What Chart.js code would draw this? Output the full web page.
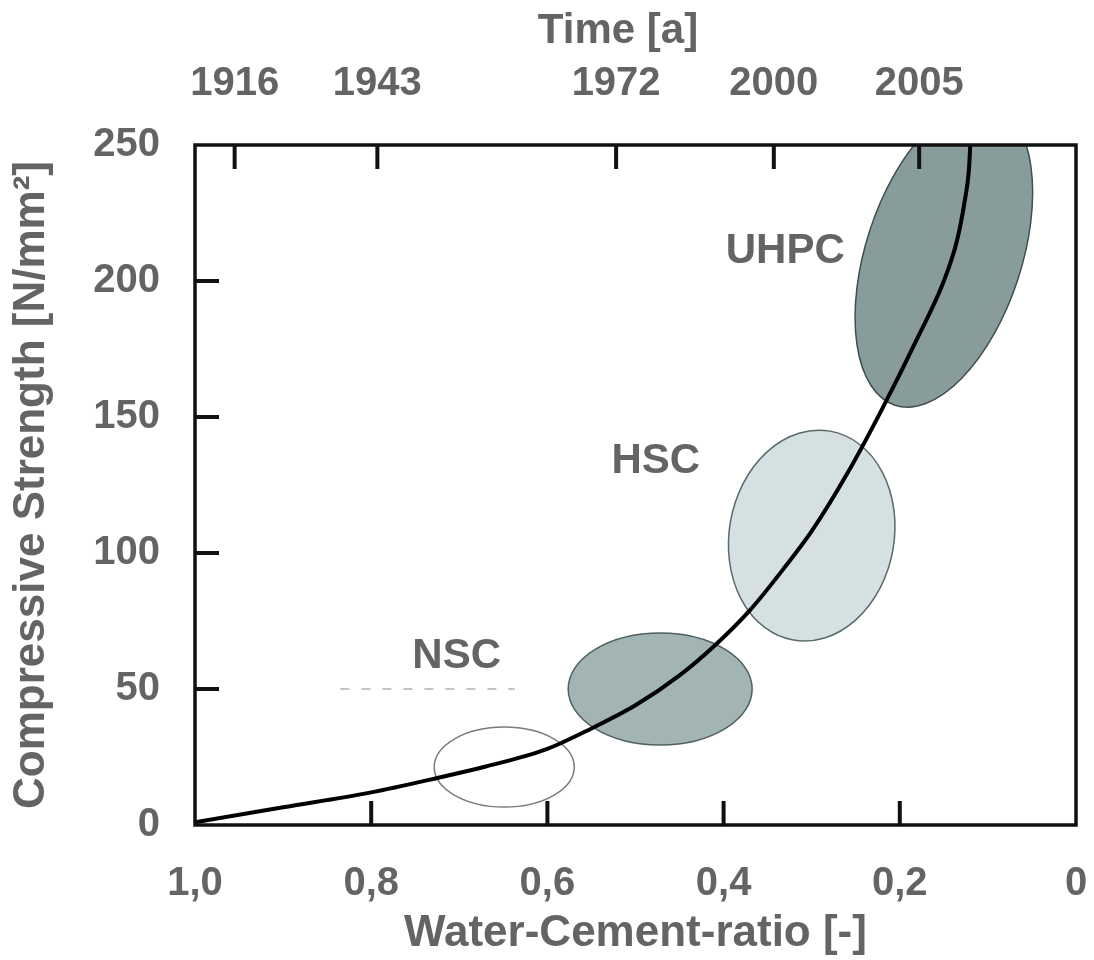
<!DOCTYPE html>
<html>
<head>
<meta charset="utf-8">
<script src="https://cdn.jsdelivr.net/npm/chart.js@4.4.1/dist/chart.umd.min.js"></script>
<style>
  body { margin: 0; background: #fff; }
  #wrap { width: 1094px; height: 960px; }
</style>
</head>
<body>
<div id="wrap"><canvas id="myChart"></canvas></div>
<script>
// strength development curve
var wcRatio = [1.0, 0.9, 0.8, 0.725, 0.67, 0.6, 0.55, 0.5, 0.45, 0.41, 0.37, 0.33, 0.3, 0.26, 0.22, 0.18, 0.15, 0.135, 0.126, 0.1215, 0.12];
var strength = [1, 6.5, 12, 17.3, 21.5, 28, 35.5, 44, 55, 66, 79, 95, 108, 129, 153, 179, 200, 215, 230, 241, 250];

// top axis: years placed on the w/c scale
var yearLabels = ["1916", "1943", "1972", "2000", "2005"];
var yearPos = [0.955, 0.793, 0.522, 0.343, 0.178];

// concrete zones (centre and half widths in axis units, tilt in degrees)
var zoneX = [0.649, 0.472, 0.300, 0.150];
var zoneY = [21.3, 50, 106.4, 209.6];
var zoneRx = [0.0795, 0.1044, 0.0936, 0.0885];
var zoneRy = [14.7, 20.6, 39, 58.1];
var zoneTilt = [0, 0, 10, 18];
var zoneFill = ["#ffffff", "#a2b5b4", "#d4e0e1", "#889c9b"];
var zoneEdge = ["#7a7a7a", "#4f5f5f", "#5a6a6a", "#3f4f4f"];

var labelText = ["NSC", "HSC", "UHPC"];
var labelX = [0.703, 0.477, 0.330];
var labelY = [61.8, 133.5, 210.7];

// faint dashed line under NSC
var dashX = [0.835, 0.637];
var dashY = [50, 50];

var FONT = "'Liberation Sans', Arial, sans-serif";
var GREY = "#646464";

function pts(xs, ys) {
  return xs.map(function (v, i) { return { x: v, y: ys[i] }; });
}

var decor = {
  id: "decor",
  beforeDatasetsDraw: function (chart) {
    var ctx = chart.ctx, a = chart.chartArea;
    var xs = chart.scales.x, ys = chart.scales.y;
    ctx.save();
    ctx.beginPath();
    ctx.rect(a.left, a.top, a.right - a.left, a.bottom - a.top);
    ctx.clip();
    for (var i = 0; i < zoneX.length; i++) {
      var cx = xs.getPixelForValue(zoneX[i]);
      var cy = ys.getPixelForValue(zoneY[i]);
      var rx = Math.abs(xs.getPixelForValue(zoneX[i] + zoneRx[i]) - cx);
      var ry = Math.abs(ys.getPixelForValue(zoneY[i] + zoneRy[i]) - cy);
      ctx.beginPath();
      ctx.ellipse(cx, cy, rx, ry, zoneTilt[i] * Math.PI / 180, 0, 2 * Math.PI);
      ctx.fillStyle = zoneFill[i];
      ctx.fill();
      ctx.lineWidth = 1.5;
      ctx.strokeStyle = zoneEdge[i];
      ctx.stroke();
    }
    ctx.font = "bold 42px " + FONT;
    ctx.fillStyle = GREY;
    ctx.textAlign = "center";
    ctx.textBaseline = "middle";
    for (var j = 0; j < labelText.length; j++) {
      ctx.fillText(labelText[j], xs.getPixelForValue(labelX[j]), ys.getPixelForValue(labelY[j]));
    }
    ctx.restore();
  },
  afterDatasetsDraw: function (chart) {
    var ctx = chart.ctx, a = chart.chartArea;
    var len = 24;
    ctx.save();
    ctx.strokeStyle = "#111";
    ctx.lineWidth = 3.5;
    ctx.strokeRect(a.left, a.top, a.right - a.left, a.bottom - a.top);
    ctx.lineWidth = 4;
    ctx.beginPath();
    chart.scales.y.ticks.forEach(function (t) {
      var p = chart.scales.y.getPixelForValue(t.value);
      if (p > a.top + 3 && p < a.bottom - 3) { ctx.moveTo(a.left, p); ctx.lineTo(a.left + len, p); }
    });
    chart.scales.x.ticks.forEach(function (t) {
      var p = chart.scales.x.getPixelForValue(t.value);
      if (p > a.left + 3 && p < a.right - 3) { ctx.moveTo(p, a.bottom); ctx.lineTo(p, a.bottom - len); }
    });
    chart.scales.x2.ticks.forEach(function (t) {
      var p = chart.scales.x2.getPixelForValue(t.value);
      ctx.moveTo(p, a.top); ctx.lineTo(p, a.top + len);
    });
    ctx.stroke();
    ctx.restore();
  }
};

new Chart("myChart", {
  type: "line",
  data: {
    datasets: [
      {
        data: pts(dashX, dashY),
        borderColor: "#c4c4c4",
        borderWidth: 2,
        borderDash: [9, 12],
        pointRadius: 0,
      },
      {
        data: pts(wcRatio, strength),
        borderColor: "#000",
        borderWidth: 4,
        cubicInterpolationMode: "monotone",
        pointRadius: 0,
      },
    ],
  },
  options: {
    responsive: true,
    maintainAspectRatio: false,
    animation: false,
    layout: { padding: 0 },
    scales: {
      x: {
        type: "linear",
        position: "bottom",
        reverse: true,
        min: 0,
        max: 1,
        grid: { display: false },
        border: { display: false },
        ticks: {
          stepSize: 0.2,
          padding: 27,
          color: GREY,
          maxRotation: 0,
          font: { family: FONT, size: 40, weight: "bold" },
          callback: function (v) {
            return v === 0 ? "0" : v.toFixed(1).replace(".", ",");
          },
        },
        title: {
          display: true,
          text: "Water-Cement-ratio [-]",
          color: GREY,
          padding: 0,
          font: { family: FONT, size: 44, weight: "bold" },
        },
        afterFit: function (s) {
          s.height = 135;
          s.paddingLeft = 0;
          s.paddingRight = 18;
        },
      },
      x2: {
        type: "linear",
        position: "top",
        reverse: true,
        min: 0,
        max: 1,
        grid: { display: false },
        border: { display: false },
        afterBuildTicks: function (s) {
          s.ticks = yearPos.map(function (v) { return { value: v }; });
        },
        ticks: {
          autoSkip: false,
          maxRotation: 0,
          padding: 29,
          color: GREY,
          font: { family: FONT, size: 40, weight: "bold" },
          callback: function (v, i) {
            return yearLabels[i];
          },
        },
        title: {
          display: true,
          text: "Time [a]\u00a0\u00a0\u00a0",
          color: GREY,
          padding: { top: 6 },
          font: { family: FONT, size: 42, weight: "bold" },
        },
        afterFit: function (s) {
          s.height = 145;
          s.paddingLeft = 0;
          s.paddingRight = 18;
        },
      },
      y: {
        type: "linear",
        position: "left",
        min: 0,
        max: 250,
        grid: { display: false },
        border: { display: false },
        ticks: {
          stepSize: 50,
          padding: 27,
          color: GREY,
          font: { family: FONT, size: 40, weight: "bold" },
        },
        title: {
          display: true,
          text: "Compressive Strength [N/mm²]",
          color: GREY,
          padding: { top: 5 },
          font: { family: FONT, size: 44, weight: "bold" },
        },
        afterFit: function (s) {
          s.width = 195;
        },
      },
    },
    plugins: {
      legend: { display: false },
      tooltip: { enabled: false },
    },
  },
  plugins: [decor],
});
</script>
</body>
</html>
